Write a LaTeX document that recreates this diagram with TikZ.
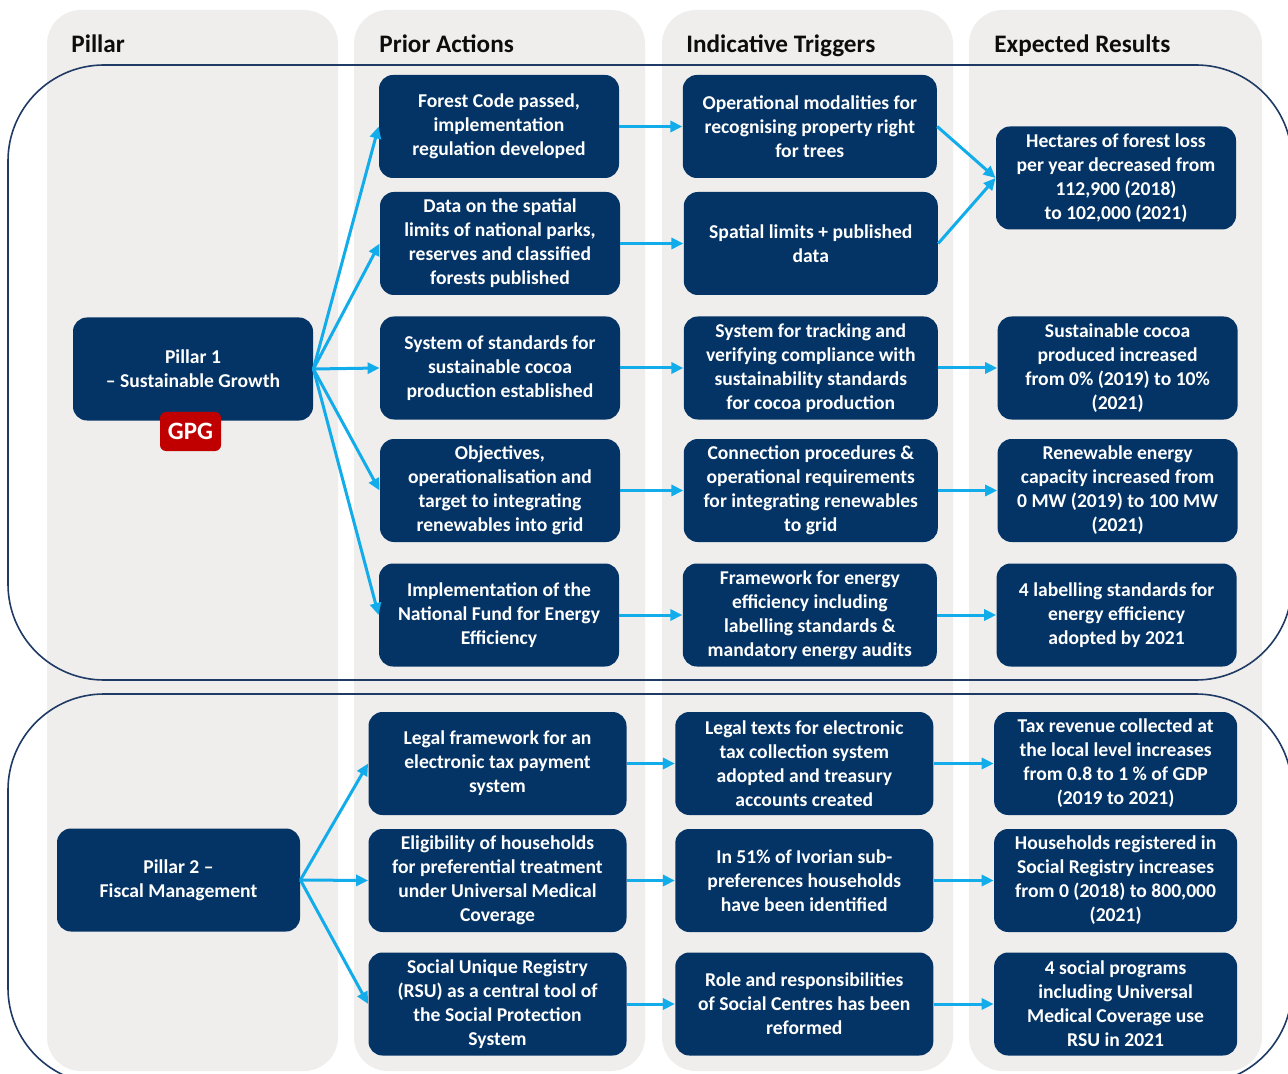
\documentclass[tikz,border=0pt]{standalone}
\usepackage{fontspec}
\setmainfont{Carlito}
\usepackage{tikz}
\usetikzlibrary{arrows.meta, positioning}
\definecolor{pnavy}{HTML}{043465}
\definecolor{pcyan}{HTML}{13ACEB}
\definecolor{pgrey}{HTML}{EFEEED}
\definecolor{pframe}{HTML}{1F3A64}
\definecolor{pred}{HTML}{C00000}
\definecolor{phead}{HTML}{0D0D0D}
\tikzset{
  box/.style={rectangle, rounded corners=7pt, fill=pnavy, text=white, minimum height=51.5pt,
              minimum width=120pt, align=center, inner sep=2pt, font=\fontsize{9.8}{12}\selectfont\bfseries},
  trigbox/.style={minimum width=127pt},
  fiscbox/.style={minimum width=129pt},
  resbox/.style={minimum width=121.5pt},
  column/.style={fill=pgrey, rounded corners=17pt},
  frame/.style={draw=pframe, line width=0.8pt, rounded corners=48pt},
  head/.style={anchor=base west, inner sep=0pt, text=phead, font=\fontsize{12.6}{14}\selectfont\bfseries},
  badge/.style={rectangle, rounded corners=3pt, fill=pred, text=white, minimum width=30.5pt,
                minimum height=19.5pt, inner sep=0pt, font=\fontsize{12.5}{14}\selectfont\bfseries},
  flow/.style={-{Triangle[length=6pt, width=5.5pt]}, draw=pcyan, line width=1.5pt}
}

\begin{document}
\begin{tikzpicture}[x=0.5pt, y=-0.5pt, node distance=30pt]
  \useasboundingbox (0,0) rectangle (1288,1074);
  \clip (0,0) rectangle (1288,1074);
  \fill[white] (0,0) rectangle (1288,1074);
  % columns
  \fill[column] (47,10) rectangle (338,1071);
  \fill[column] (354,10) rectangle (645,1071);
  \fill[column] (662,10) rectangle (953,1071);
  \fill[column] (969,10) rectangle (1262,1071);
  \node[head] (hpil) at (71,53) {Pillar};
  \node[head] (hact) at (379,53) {Prior Actions};
  \node[head] (htrig) at (686,53) {Indicative Triggers};
  \node[head] (hres) at (994,53) {Expected Results};
  % pillar frames
  \draw[frame] (8,65) rectangle (1292,680);
  \draw[frame] (8,694) rectangle (1292,1084);

  % pillar 1
  \node[box] (p1) at (193,369) {Pillar 1\\\textendash\ Sustainable Growth};
  \node[badge] (gpg) at (190.5,431.5) {GPG};
  \node[box] (act1) at (499,126.5) {Forest Code passed,\\implementation\\regulation developed};
  \node[box] (act2) at (500,243.5) {Data on the spatial\\limits of national parks,\\reserves and classified\\forests published};
  \node[box] (act3) at (500,368) {System of standards for\\sustainable cocoa\\production established};
  \node[box] (act4) at (500,490.5) {Objectives,\\operationalisation and\\target to integrating\\renewables into grid};
  \node[box] (act5) at (499,615) {Implementation of the\\National Fund for Energy\\Efficiency};
  \node[box, trigbox, right=31.5pt of act1] (trig1) {Operational modalities for\\recognising property right\\for trees};
  \node[box, trigbox, right=31.5pt of act2] (trig2) {Spatial limits + published\\data};
  \node[box, trigbox, right=31.5pt of act3] (trig3) {System for tracking and\\verifying compliance with\\sustainability standards\\for cocoa production};
  \node[box, trigbox, right=31.5pt of act4] (trig4) {Connection procedures \&\\operational requirements\\for integrating renewables\\to grid};
  \node[box, trigbox, right=31.5pt of act5] (trig5) {Framework for energy\\efficiency including\\labelling standards \&\\mandatory energy audits};
  \node[box] (res1) at (1116,178) {Hectares of forest loss\\per year decreased from\\112,900 (2018)\\to 102,000 (2021)};
  \node[box, right=29.5pt of trig3] (res3) {Sustainable cocoa\\produced increased\\from 0\% (2019) to 10\%\\(2021)};
  \node[box, right=29.5pt of trig4] (res4) {Renewable energy\\capacity increased from\\0 MW (2019) to 100 MW\\(2021)};
  \node[box, right=29.5pt of trig5] (res5) {4 labelling standards for\\energy efficiency\\adopted by 2021};

  % pillar 2
  \node[box, resbox] (p2) at (178.5,880) {Pillar 2 \textendash\\Fiscal Management};
  \node[box, fiscbox] (fact1) at (497.5,763.5) {Legal framework for an\\electronic tax payment\\system};
  \node[box, fiscbox] (fact2) at (497.5,880.5) {Eligibility of households\\for preferential treatment\\under Universal Medical\\Coverage};
  \node[box, fiscbox] (fact3) at (497.5,1004) {Social Unique Registry\\(RSU) as a central tool of\\the Social Protection\\System};
  \node[box, fiscbox, right=24pt of fact1] (ftrig1) {Legal texts for electronic\\tax collection system\\adopted and treasury\\accounts created};
  \node[box, fiscbox, right=24pt of fact2] (ftrig2) {In 51\% of Ivorian sub-\\preferences households\\have been identified};
  \node[box, fiscbox, right=24pt of fact3] (ftrig3) {Role and responsibilities\\of Social Centres has been\\reformed};
  \node[box, resbox, right=30pt of ftrig1] (fres1) {Tax revenue collected at\\the local level increases\\from 0.8 to 1 \% of GDP\\(2019 to 2021)};
  \node[box, resbox, right=30pt of ftrig2] (fres2) {Households registered in\\Social Registry increases\\from 0 (2018) to 800,000\\(2021)};
  \node[box, resbox, right=30pt of ftrig3] (fres3) {4 social programs\\including Universal\\Medical Coverage use\\RSU in 2021};

  % arrows
  \foreach \n in {1,...,5} {
    \draw[flow] (p1.east) -- (act\n.west);
    \draw[flow] (act\n) -- (trig\n);
  }
  \draw[flow] (trig1.east) -- (res1.west);
  \draw[flow] (trig2.east) -- (res1.west);
  \foreach \n in {3,4,5} \draw[flow] (trig\n) -- (res\n);
  \foreach \n in {1,2,3} {
    \draw[flow] (p2.east) -- (fact\n.west);
    \draw[flow] (fact\n) -- (ftrig\n);
    \draw[flow] (ftrig\n) -- (fres\n);
  }
\end{tikzpicture}
\end{document}
